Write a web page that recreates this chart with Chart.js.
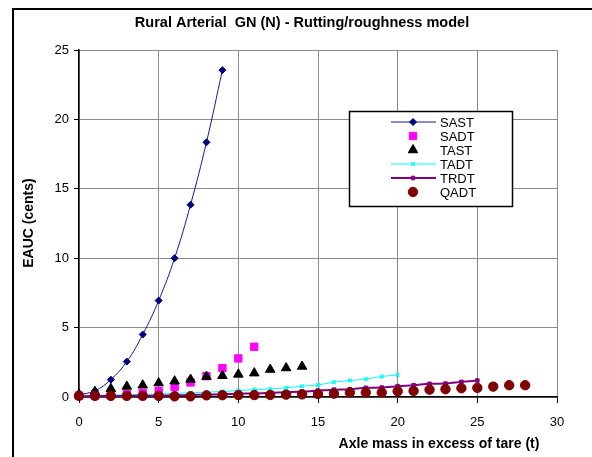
<!DOCTYPE html>
<html>
<head>
<meta charset="utf-8">
<script src="https://cdn.jsdelivr.net/npm/chart.js@4.4.1/dist/chart.umd.min.js"></script>
<style>
  html, body { margin: 0; padding: 0; background: #fff; }
  #wrap { width: 592px; height: 457px; }
</style>
</head>
<body>
<div id="wrap"><canvas id="rutting-chart" width="592" height="457"></canvas></div>
<script>
// axle mass in excess of tare (t)
const axleMass = [0, 1, 2, 3, 4, 5, 6, 7, 8, 9, 10, 11, 12, 13, 14, 15, 16, 17, 18, 19, 20, 21, 22, 23, 24, 25, 26, 27, 28];

// EAUC (cents) per vehicle type
const sast = [0.15, 0.45, 1.25, 2.55, 4.5, 6.95, 10.0, 13.85, 18.35, 23.55];
const sadt = [0.1, 0.1, 0.15, 0.2, 0.3, 0.42, 0.72, 1.05, 1.5, 2.08, 2.78, 3.62];
const tast = [0.2, 0.38, 0.6, 0.76, 0.85, 1.0, 1.14, 1.26, 1.47, 1.53, 1.63, 1.72, 1.98, 2.09, 2.2];
const tadt = [0.1, 0.12, 0.14, 0.16, 0.19, 0.22, 0.26, 0.3, 0.35, 0.4, 0.46, 0.53, 0.58, 0.66, 0.78, 0.87, 1.07, 1.19, 1.29, 1.48, 1.58];
const trdt = [0.05, 0.06, 0.07, 0.08, 0.09, 0.1, 0.12, 0.14, 0.17, 0.2, 0.23, 0.26, 0.3, 0.35, 0.39, 0.46, 0.53, 0.56, 0.66, 0.68, 0.78, 0.85, 0.95, 0.97, 1.09, 1.19];
const qadt = [0.08, 0.08, 0.08, 0.08, 0.08, 0.08, 0.05, 0.05, 0.12, 0.13, 0.14, 0.14, 0.15, 0.17, 0.19, 0.22, 0.24, 0.32, 0.32, 0.32, 0.41, 0.44, 0.53, 0.56, 0.63, 0.66, 0.75, 0.85, 0.85];

const xTicks = [0, 5, 10, 15, 20, 25, 30];
const yTicks = [0, 5, 10, 15, 20, 25];

const FONT = '"Liberation Sans", Arial, sans-serif';

function toPoints(values) {
  return values.map((v, i) => ({ x: axleMass[i], y: v }));
}

// frame, titles and the boxed legend are drawn by hand like the Excel original
const decorations = {
  id: 'decorations',
  beforeDraw(chart) {
    const ctx = chart.ctx;
    ctx.save();
    ctx.fillStyle = '#fff';
    ctx.fillRect(0, 0, chart.width, chart.height);
    ctx.strokeStyle = '#000';
    ctx.lineWidth = 2;
    ctx.strokeRect(13, 9, 700, 600);
    ctx.restore();
  },
  afterDraw(chart) {
    const ctx = chart.ctx;
    ctx.save();
    ctx.fillStyle = '#000';
    ctx.textBaseline = 'middle';
    ctx.textAlign = 'center';

    ctx.font = 'bold 14.5px ' + FONT;
    ctx.fillText('Rural Arterial  GN (N) - Rutting/roughness model', 302, 23);

    ctx.font = 'bold 14px ' + FONT;
    ctx.fillText('Axle mass in excess of tare (t)', 439, 444);

    ctx.save();
    ctx.translate(29, 223);
    ctx.rotate(-Math.PI / 2);
    ctx.fillText('EAUC (cents)', 0, 0);
    ctx.restore();

    // legend box
    ctx.fillStyle = '#fff';
    ctx.fillRect(349, 111, 164, 96);
    ctx.strokeStyle = '#000';
    ctx.lineWidth = 1.5;
    ctx.strokeRect(349.5, 111.5, 163, 95);

    ctx.font = '13px ' + FONT;
    ctx.textAlign = 'left';
    chart.data.datasets.forEach((ds, i) => {
      const y = 122 + i * 14;
      if (ds.showLine) {
        ctx.strokeStyle = ds.borderColor;
        ctx.lineWidth = ds.borderWidth;
        ctx.beginPath();
        ctx.moveTo(391, y);
        ctx.lineTo(436, y);
        ctx.stroke();
      }
      ctx.fillStyle = ds.pointBackgroundColor;
      ctx.strokeStyle = ds.pointBorderColor;
      ctx.lineWidth = ds.pointBorderWidth;
      Chart.helpers.drawPoint(ctx, {
        pointStyle: ds.pointStyle,
        radius: ds.pointRadius,
        rotation: 0,
        borderWidth: ds.pointBorderWidth
      }, 413, y);
      ctx.fillStyle = '#000';
      ctx.fillText(ds.label, 440, y + 1);
    });
    ctx.restore();
  }
};

const datasets = [
  { label: 'SAST', data: toPoints(sast), showLine: true, tension: 0.4,
    borderColor: '#1a1a8a', borderWidth: 1,
    pointStyle: 'rectRot', pointRadius: 3.5, pointBackgroundColor: '#000080', pointBorderColor: '#000080', pointBorderWidth: 1 },
  { label: 'SADT', data: toPoints(sadt), showLine: false,
    borderColor: '#ff00ff', borderWidth: 1,
    pointStyle: 'rect', pointRadius: 5.2, pointBackgroundColor: '#ff00ff', pointBorderColor: '#ff00ff', pointBorderWidth: 1 },
  { label: 'TAST', data: toPoints(tast), showLine: false,
    borderColor: '#000', borderWidth: 1,
    pointStyle: 'triangle', pointRadius: 5.5, pointBackgroundColor: '#000', pointBorderColor: '#000', pointBorderWidth: 1 },
  { label: 'TADT', data: toPoints(tadt), showLine: true, tension: 0.3,
    borderColor: '#00ffff', borderWidth: 1,
    pointStyle: 'crossRot', pointRadius: 2.5, pointBackgroundColor: '#00ffff', pointBorderColor: '#00ffff', pointBorderWidth: 1.5 },
  { label: 'TRDT', data: toPoints(trdt), showLine: true, tension: 0.3,
    borderColor: '#800080', borderWidth: 2,
    pointStyle: 'rect', pointRadius: 2.5, pointBackgroundColor: '#800080', pointBorderColor: '#800080', pointBorderWidth: 1 },
  { label: 'QADT', data: toPoints(qadt), showLine: false,
    borderColor: '#800000', borderWidth: 1,
    pointStyle: 'circle', pointRadius: 4.7, pointBackgroundColor: '#800000', pointBorderColor: '#800000', pointBorderWidth: 1 }
];
// later series sit on top, as in the original
datasets.forEach((ds, i) => { ds.order = datasets.length - i; ds.clip = 10; ds.pointHoverRadius = ds.pointRadius; });

new Chart(document.getElementById('rutting-chart'), {
  type: 'scatter',
  data: { datasets: datasets },
  options: {
    responsive: false,
    animation: false,
    layout: { padding: { top: 50, right: 35, left: 0, bottom: 0 } },
    plugins: { legend: { display: false }, title: { display: false }, tooltip: { enabled: false } },
    scales: {
      x: {
        type: 'linear', min: 0, max: 30,
        afterFit(scale) { scale.height = 60; },
        afterBuildTicks(scale) { scale.ticks = xTicks.map(v => ({ value: v })); },
        grid: { color: '#8c8c8c', lineWidth: 1, tickColor: '#000', tickLength: 6 },
        border: { color: '#000', width: 1.5 },
        ticks: { color: '#000', font: { family: FONT, size: 13 }, padding: 12, maxRotation: 0 }
      },
      y: {
        type: 'linear', min: 0, max: 25,
        afterFit(scale) { scale.width = 79; },
        afterBuildTicks(scale) { scale.ticks = yTicks.map(v => ({ value: v })); },
        grid: { color: '#8c8c8c', lineWidth: 1, tickColor: '#000', tickLength: 5 },
        border: { color: '#000', width: 1.5 },
        ticks: { color: '#000', font: { family: FONT, size: 13 }, padding: 5 }
      }
    }
  },
  plugins: [decorations]
});
</script>
</body>
</html>
